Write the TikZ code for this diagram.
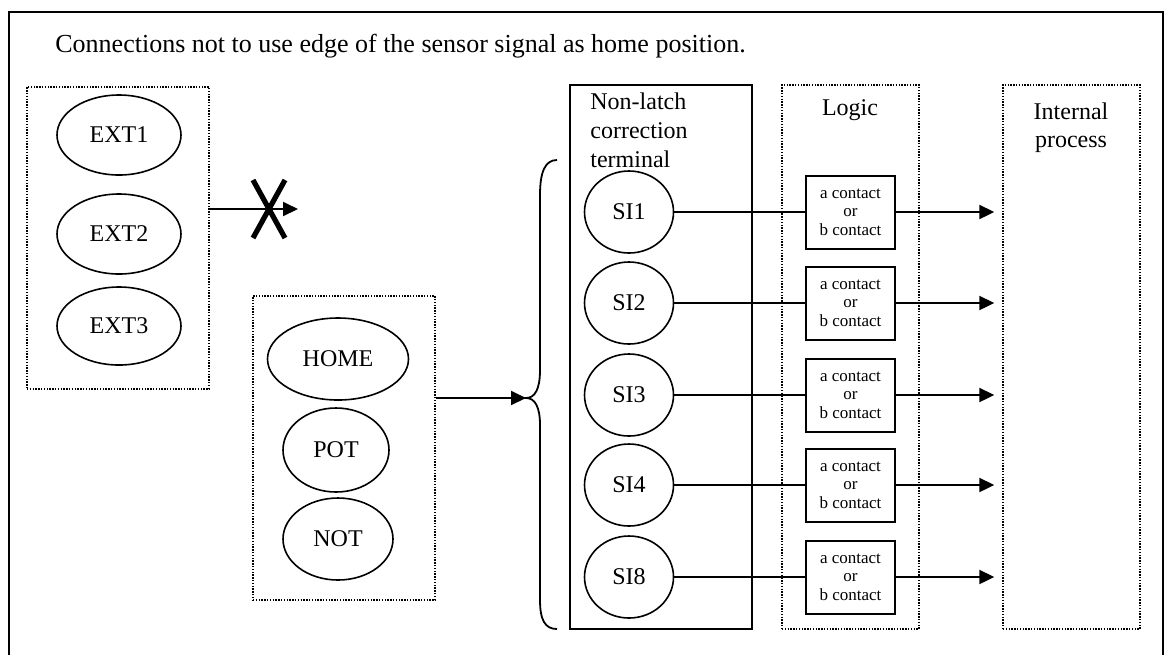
\documentclass[tikz,border=0pt]{standalone}
\usepackage{fontspec}
\setmainfont{Liberation Serif}
\usetikzlibrary{arrows.meta,shapes.geometric,positioning}

\tikzset{
  dotbox/.style={draw, line width=0.7pt, dash pattern=on 0.7pt off 0.7pt, inner sep=0pt},
  sig/.style={draw, ellipse, line width=0.8pt, inner sep=0pt, font=\fontsize{12}{14}\selectfont},
  contact/.style={draw, line width=1pt, minimum width=44.5pt, minimum height=36.5pt, inner sep=0pt, align=center, font=\fontsize{8.5}{9.2}\selectfont},
  arr/.style={-{Triangle[length=7.5pt,width=7pt]}, line width=1pt},
}

\begin{document}
\begin{tikzpicture}[x=0.5pt, y=-0.5pt]
    \useasboundingbox (0,0) rectangle (1165,655);

    % Frame
    \draw[line width=1pt] (9,655) -- (9,12) -- (1163,12) -- (1163,655);
    \node[anchor=base west, inner sep=0pt, font=\fontsize{13}{15}\selectfont] (title) at (55,52) {Connections not to use edge of the sensor signal as home position.};

    % External signals
    \node[dotbox, minimum width=91pt, minimum height=151pt] (ext) at (118,238) {};
    \node[sig, minimum width=62pt, minimum height=40pt] (ext1) at (119,135) {EXT1};
    \node[sig, minimum width=62pt, minimum height=40pt] (ext2) at (119,234) {EXT2};
    \node[sig, minimum width=62pt, minimum height=39pt] (ext3) at (119,326) {EXT3};
    \coordinate (nogo) at (298,209);
    \draw[arr] (ext.east |- nogo) -- (nogo);
    \coordinate (cross) at (269,209);
    \draw[line width=2.6pt] (cross) ++(-16,-29) -- ++(32,58);
    \draw[line width=2.6pt] (cross) ++(16,-29) -- ++(-32,58);

    % Home signals
    \node[dotbox, minimum width=91pt, minimum height=152pt] (home) at (344,448) {};
    \node[sig, minimum width=70.5pt, minimum height=41pt] (homesig) at (338,359) {HOME};
    \node[sig, minimum width=53pt, minimum height=42pt] (pot) at (336,450) {POT};
    \node[sig, minimum width=55pt, minimum height=41pt] (not) at (338,539) {NOT};
    \coordinate (brtip) at (526,398);
    \draw[arr] (home.east |- brtip) -- (brtip);

    % Brace
    \draw[line width=0.9pt] (557,160) .. controls (545,160) and (540,172) .. (540,195)
        -- (540,370) .. controls (540,389) and (535,398) .. (brtip)
        .. controls (535,398) and (540,407) .. (540,425)
        -- (540,600) .. controls (540,620) and (545,629) .. (557,629);

    % Terminal, logic and process columns
    \node[draw, line width=1pt, minimum width=91pt, minimum height=272pt] (term) at (661,357) {};
    \node[anchor=north west, align=left, inner sep=0pt, font=\fontsize{12}{14.7}\selectfont] (termlbl) at (590,92) {Non-latch\\correction\\terminal};
    \node[dotbox, minimum width=68.5pt, minimum height=272pt] (logic) at (850.5,357) {};
    \node[anchor=north, inner sep=0pt, font=\fontsize{12}{14}\selectfont] (logiclbl) at (850,99) {Logic};
    \node[dotbox, minimum width=68.5pt, minimum height=272pt] (internal) at (1071.5,357) {};
    \node[anchor=north, align=center, inner sep=0pt, font=\fontsize{12}{14.3}\selectfont] (intlbl) at (1071,102) {Internal\\process};

    % Signals through logic
    \foreach \n/\y in {1/212,2/303,3/395,4/485,8/577}{
        \node[sig, minimum width=44.5pt, minimum height=41pt] (si\n) at (629,\y) {SI\n};
        \node[contact] (ct\n) at (850.5,\y) {a contact\\or\\b contact};
        \draw[line width=1pt] (si\n) -- (ct\n);
        \draw[arr] (ct\n) -- ([xshift=-4pt]internal.west |- ct\n);
    }
\end{tikzpicture}
\end{document}
